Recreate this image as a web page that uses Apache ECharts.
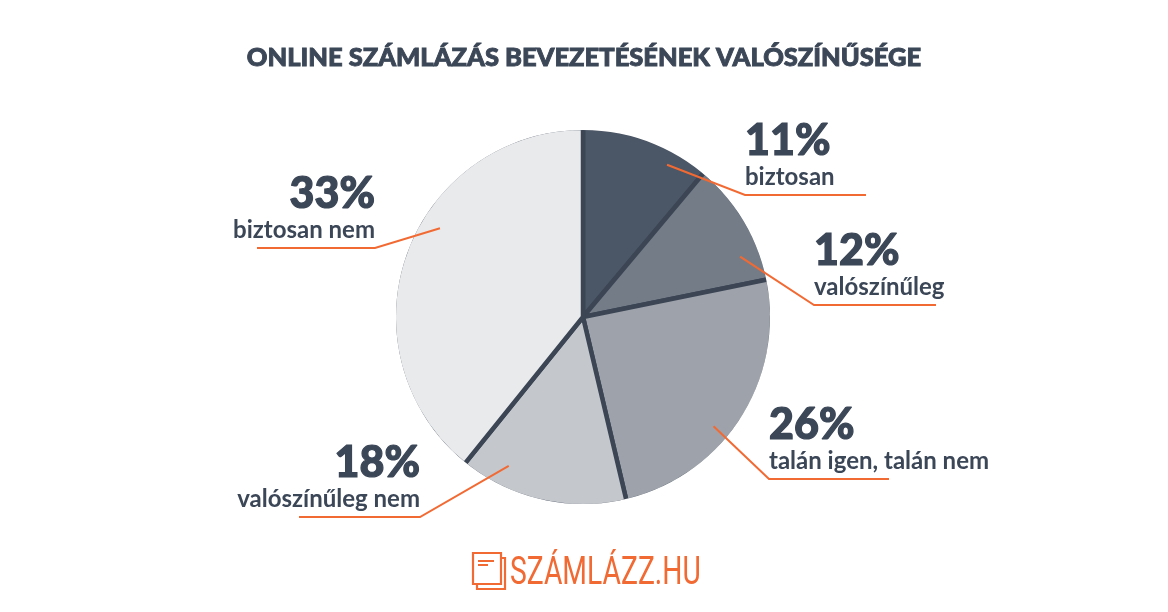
<!DOCTYPE html>
<html>
<head>
<meta charset="utf-8">
<script src="https://cdn.jsdelivr.net/npm/echarts@6/dist/echarts.min.js"></script>
<style>
html,body{margin:0;padding:0;background:#fff;}
#c{width:1168px;height:612px;}
</style>
</head>
<body>
<div id="c"></div>
<script>
// ---- data ----
var titleText = 'ONLINE SZÁMLÁZÁS BEVEZETÉSÉNEK VALÓSZÍNŰSÉGE';
var categories = ['biztosan', 'valószínűleg', 'talán igen, talán nem', 'valószínűleg nem', 'biztosan nem'];
var percentLabels = ['11%', '12%', '26%', '18%', '33%'];
// slice sizes as drawn in the picture (share of the full circle, %)
var sliceShares = [11.1, 10.7, 24.5, 14.5, 39.2];
var logoText = 'SZÁMLÁZZ.HU';

// ---- style / layout ----
var sliceColors = ['#4b5666', '#747c88', '#9ea3ab', '#c4c7cc', '#e9eaec'];
var inkColor = '#3b4657';
var accent = '#f26a33';
var CX = 583, CY = 317, R = 187, BW = 4.5;
// callout geometry: start point polar (deg from top, clockwise; fraction of R), elbow offset from centre, horizontal length
var callouts = [
  {a: 28.9,  r: 0.93, ex: 162,  ey: -122, len: 121, side: 'right'},
  {a: 69.0,  r: 0.90, ex: 231,  ey: -12,  len: 122, side: 'right'},
  {a: 129.9, r: 0.91, ex: 186,  ey: 162,  len: 120, side: 'right'},
  {a: 206.5, r: 0.89, ex: -163, ey: 200,  len: 121, side: 'left'},
  {a: 301.8, r: 0.90, ex: -208, ey: -69,  len: 118, side: 'left'}
];

var chart = echarts.init(document.getElementById('c'), null, {renderer: 'canvas'});

var fillData = categories.map(function (c, i) {
  return {name: c, value: sliceShares[i], itemStyle: {color: sliceColors[i]}};
});
var labelData = categories.map(function (c, i) {
  var al = callouts[i].side === 'left' ? 'right' : 'left';
  return {
    name: c, value: sliceShares[i],
    label: {
      formatter: '{p|' + percentLabels[i] + '}\n{t|' + c + '}',
      rich: {
        p: {fontFamily: 'Lato', fontWeight: 900, fontSize: 43, lineHeight: 45, color: inkColor, align: al,
            textBorderColor: inkColor, textBorderWidth: 1.2},
        t: {fontFamily: 'Lato', fontWeight: 700, fontSize: 24, lineHeight: 27, color: inkColor, align: al}
      }
    }
  };
});

var option = {
  animation: false,
  title: {
    text: titleText,
    left: 'center',
    top: 40,
    textStyle: {fontFamily: 'Lato', fontWeight: 900, fontSize: 25.5, color: inkColor,
                textBorderColor: inkColor, textBorderWidth: 0.9}
  },
  graphic: [
    // logo icon: back sheet
    {type: 'polyline', shape: {points: [[477, 584], [477, 589], [505, 589], [505, 558], [501, 558]]},
     style: {stroke: accent, lineWidth: 2.2, fill: null}},
    // front sheet
    {type: 'rect', shape: {x: 473, y: 553, width: 28, height: 31},
     style: {stroke: accent, lineWidth: 2.2, fill: '#fff'}},
    {type: 'line', shape: {x1: 478, y1: 561, x2: 494, y2: 561}, style: {stroke: accent, lineWidth: 2}},
    {type: 'line', shape: {x1: 478, y1: 565, x2: 488, y2: 565}, style: {stroke: accent, lineWidth: 2}},
    {type: 'text', x: 510, y: 574, scaleX: 0.725, originX: 0, originY: 0,
     style: {text: logoText, fontFamily: 'Roboto', fontWeight: 400, fontSize: 39,
             fill: accent, align: 'left', verticalAlign: 'middle'}}
  ],
  series: [
    {
      type: 'pie', z: 2, silent: true,
      center: [CX, CY], radius: [0, R + BW / 2],
      startAngle: 90, clockwise: true,
      label: {show: false}, labelLine: {show: false},
      itemStyle: {borderColor: '#3b4554', borderWidth: BW},
      emphasis: {disabled: true},
      data: fillData
    },
    {
      type: 'pie', z: 3, silent: true,
      center: [CX, CY], radius: [R, R + 12],
      label: {show: false}, labelLine: {show: false},
      itemStyle: {color: '#ffffff'},
      emphasis: {disabled: true},
      data: [{value: 1, name: ''}]
    },
    {
      type: 'pie', z: 4, silent: true,
      center: [CX, CY], radius: [0, R],
      startAngle: 90, clockwise: true,
      avoidLabelOverlap: false,
      itemStyle: {color: 'rgba(0,0,0,0)'},
      label: {show: true, position: 'outside'},
      labelLine: {show: true, length: 10, length2: 10, smooth: false,
                  lineStyle: {color: accent, width: 2}},
      emphasis: {disabled: true},
      labelLayout: function (p) {
        var g = callouts[p.dataIndex];
        var rad = g.a * Math.PI / 180;
        var sx = CX + Math.sin(rad) * R * g.r;
        var sy = CY - Math.cos(rad) * R * g.r;
        var exx = CX + g.ex, eyy = CY + g.ey;
        var endx = g.side === 'left' ? exx - g.len : exx + g.len;
        return {
          x: exx, y: eyy - 4,
          align: g.side === 'left' ? 'right' : 'left',
          verticalAlign: 'bottom',
          labelLinePoints: [[sx, sy], [exx, eyy], [endx, eyy]]
        };
      },
      data: labelData
    }
  ]
};
chart.setOption(option);
</script>
</body>
</html>
